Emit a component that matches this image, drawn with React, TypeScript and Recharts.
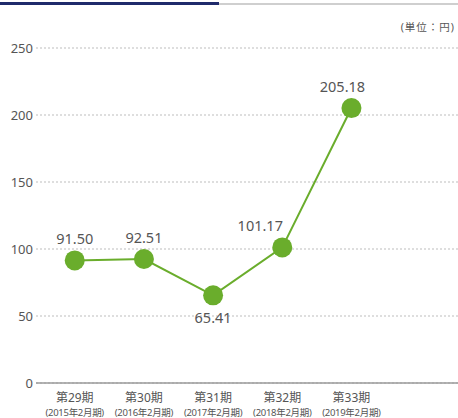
import React from 'react'
import { LineChart, Line, XAxis, YAxis, CartesianGrid, LabelList } from 'recharts'

const periods = ['第29期', '第30期', '第31期', '第32期', '第33期']
const fiscalYears = ['(2015年2月期)', '(2016年2月期)', '(2017年2月期)', '(2018年2月期)', '(2019年2月期)']
const values = [91.5, 92.51, 65.41, 101.17, 205.18]
const yTicks = [0, 50, 100, 150, 200, 250]

const GREEN = '#6aad2c'
const TEXT = '#555'
const FONT = '"Noto Sans", "Noto Sans CJK JP", sans-serif'

const data = values.map((v, i) => ({ idx: i, value: v }))

function PeriodTick({ x, y, payload }: any) {
  const i = payload.value
  return (
    <g transform={`translate(${x},${y})`}>
      <text x={0} y={10.5} textAnchor="middle" fontSize={12} fill={TEXT} fontFamily={FONT}>
        {periods[i]}
      </text>
      <text x={0} y={25} textAnchor="middle" fontSize={9.5} fill={TEXT} fontFamily={FONT} letterSpacing={-0.3}>
        {fiscalYears[i]}
      </text>
    </g>
  )
}

// nudge the labels on the rising part off the line
const labelNudge: Record<number, number> = { 3: -22, 4: -9 }

// labels sit above the dots, except at a dip where they go underneath
function ValueLabel({ x, y, index, value }: any) {
  const prev = values[index - 1] ?? -Infinity
  const next = values[index + 1] ?? -Infinity
  const below = value < prev && value < next
  return (
    <text
      x={x + (labelNudge[index] ?? 0)}
      y={below ? y + 28 : y - 16}
      textAnchor="middle"
      fontSize={14.5}
      fill={TEXT}
      fontFamily={FONT}
    >
      {value.toFixed(2)}
    </text>
  )
}

export default function App() {
  return (
    <div style={{ position: 'absolute', left: 0, top: 0, width: 458, height: 418, background: '#fff', fontFamily: FONT }}>
      <div style={{ position: 'absolute', left: 0, top: 3, width: 458, height: 2, background: '#cfcfcf' }} />
      <div style={{ position: 'absolute', left: 0, top: 2, width: 219, height: 3, background: '#1f2a6b' }} />
      <div
        style={{
          position: 'absolute',
          right: 3,
          top: 19,
          fontSize: 10.5,
          lineHeight: '16px',
          letterSpacing: 1,
          color: TEXT,
          whiteSpace: 'nowrap',
        }}
      >
        (単位：円)
      </div>
      <LineChart width={458} height={418} data={data} margin={{ top: 48, right: 0, bottom: 0, left: 0 }}>
        <CartesianGrid vertical={false} stroke="#bdbdbd" strokeDasharray="2 2" />
        <XAxis
          dataKey="idx"
          type="number"
          domain={[-0.56, 5.54]}
          allowDataOverflow
          ticks={[0, 1, 2, 3, 4]}
          tick={<PeriodTick />}
          tickLine={false}
          axisLine={{ stroke: '#9a9a9a', strokeWidth: 1.5 }}
          height={35}
          interval={0}
        />
        <YAxis
          domain={[0, 250]}
          ticks={yTicks}
          width={36}
          tickLine={false}
          axisLine={false}
          tickSize={0}
          tickMargin={3}
          tick={{ fontSize: 13, fill: TEXT, fontFamily: FONT }}
        />
        <Line
          dataKey="value"
          type="linear"
          stroke={GREEN}
          strokeWidth={2}
          dot={{ r: 10, fill: GREEN, stroke: 'none' }}
          activeDot={false}
          isAnimationActive={false}
        >
          <LabelList dataKey="value" content={<ValueLabel />} />
        </Line>
      </LineChart>
    </div>
  )
}
